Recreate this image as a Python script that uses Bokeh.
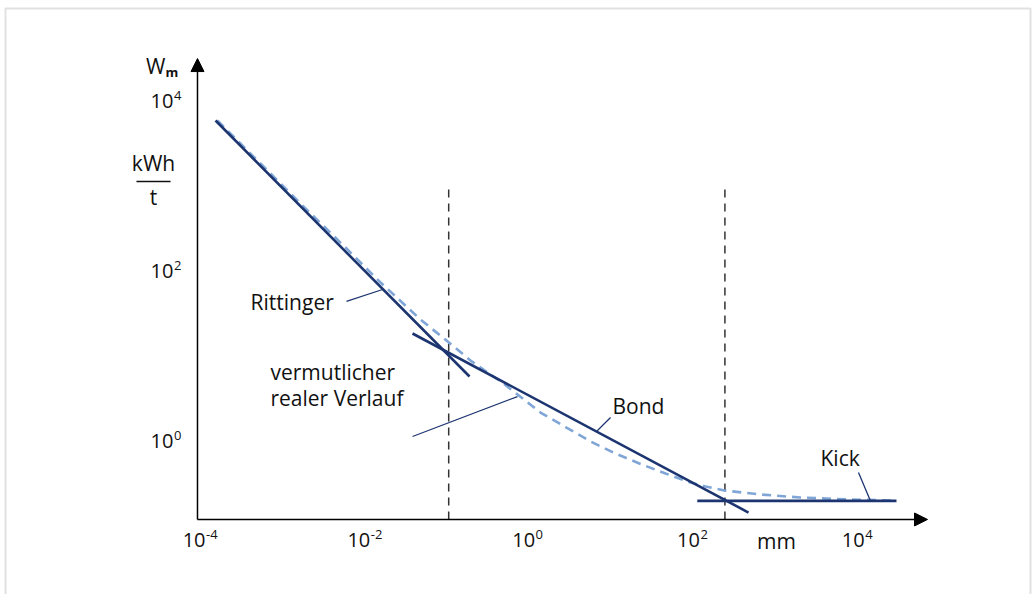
from bokeh.plotting import figure
from bokeh.models import Arrow, NormalHead, Range1d, BoxAnnotation
from bokeh.core.properties import value
from bokeh.embed import file_html
from bokeh.resources import INLINE

# ---------------- data ----------------
x_tick_values = [1e-4, 1e-2, 1e0, 1e2, 1e4]
x_tick_exponents = ["-4", "-2", "0", "2", "4"]
y_tick_values = [1e4, 1e2, 1e0]
y_tick_exponents = ["4", "2", "0"]

rittinger_x = [1.48e-4, 0.179]
rittinger_y = [5970.0, 5.82]
bond_x = [0.0364, 435.0]
bond_y = [18.65, 0.146]
kick_x = [104.0, 27200.0]
kick_y = [0.2, 0.2]

real_x = [1.56e-4, 5.2e-4, 1.59e-3, 4.86e-3, 0.0149, 0.0455, 0.094, 0.184, 0.462, 0.684,
          1.30, 2.616, 5.26, 10.57, 21.3, 42.8, 85.9, 130.8, 222.0, 608.0, 1860.0, 7520.0, 26400.0]
real_y = [5970.0, 1866.0, 631.0, 219.0, 74.2, 27.2, 15.4, 8.97, 4.81, 3.57,
          2.19, 1.481, 1.0, 0.7227, 0.5435, 0.4203, 0.3293, 0.2955, 0.265, 0.238, 0.219, 0.208, 0.202]

boundary_x = [0.1, 225.0]
boundary_top = 950.0

# axis geometry (data units)
axis_x0 = 8.94e-5
axis_y0 = 0.121
x_arrow_end = 6.47e4
y_arrow_end = 3.2e4

NAVY = "#1c3570"
LIGHT = "#7fa6d7"
INK = "#111111"
FONT = value("Open Sans")

p = figure(width=1033, height=594,
           x_axis_type="log", y_axis_type="log",
           x_range=Range1d(10 ** -6.4393, 10 ** 6.0971),
           y_range=Range1d(10 ** -1.8, 10 ** 5.1882),
           x_axis_location=None, y_axis_location=None,
           toolbar_location=None, output_backend="svg",
           min_border_left=0, min_border_right=0, min_border_top=0, min_border_bottom=0)
p.outline_line_color = None
p.background_fill_color = "white"
p.border_fill_color = "white"
p.grid.visible = False

# picture frame (open at the bottom, as in the source)
p.add_layout(BoxAnnotation(left=10 ** -6.3786, right=10 ** 6.0607, top=10 ** 5.0941, bottom=10 ** -2.106,
                           fill_alpha=0, line_color="#9c9c9c", line_width=2))

# boundaries (dashed verticals)
p.segment(x0=boundary_x, y0=[axis_y0] * len(boundary_x), x1=boundary_x,
          y1=[boundary_top] * len(boundary_x),
          line_color="#333333", line_width=1.5, line_dash="8 6")

# presumed real curve
p.line(real_x, real_y, line_color=LIGHT, line_width=2.6, line_dash="9 6")

# laws
p.line(rittinger_x, rittinger_y, line_color=NAVY, line_width=2.6)
p.line(bond_x, bond_y, line_color=NAVY, line_width=2.6)
p.line(kick_x, kick_y, line_color=NAVY, line_width=2.6)

# leader lines
lead_x0 = [5.75e-3, 0.0364, 9.2, 9400.0]
lead_y0 = [44.4, 1.145, 1.916, 0.4315]
lead_x1 = [0.01574, 0.684, 6.22, 13150.0]
lead_y1 = [61.4, 3.38, 1.311, 0.2]
p.segment(x0=lead_x0, y0=lead_y0, x1=lead_x1, y1=lead_y1, line_color=NAVY, line_width=1.3)

# labels
label_text = ["Rittinger", "vermutlicher", "realer Verlauf", "Bond", "Kick"]
label_x = [3.94e-4, 6.87e-4, 6.87e-4, 9.73, 3250.0]
label_y = [43.2, 6.49, 3.21, 2.65, 0.631]
p.text(x=label_x, y=label_y, text=label_text, text_font=FONT, text_font_size="21px",
       text_align="left", text_baseline="middle", text_color=INK)

# axes with arrows
for (xs, ys, xe, ye) in [(axis_x0, axis_y0, x_arrow_end, axis_y0),
                         (axis_x0, axis_y0, axis_x0, y_arrow_end)]:
    p.add_layout(Arrow(x_start=xs, y_start=ys, x_end=xe, y_end=ye,
                       line_color="black", line_width=1.5,
                       end=NormalHead(size=13, fill_color="black", line_color="black", line_width=1)))

# x tick labels
p.text(x=x_tick_values, y=[axis_y0] * len(x_tick_values), text=["10"] * len(x_tick_values),
       text_font=FONT, text_font_size="20px", text_align="right", text_baseline="middle",
       x_offset=4, y_offset=21, text_color=INK)
p.text(x=x_tick_values, y=[axis_y0] * len(x_tick_values), text=x_tick_exponents,
       text_font=FONT, text_font_size="13px", text_align="left", text_baseline="middle",
       x_offset=4.5, y_offset=15, text_color=INK)
p.text(x=[950.0], y=[axis_y0], text=["mm"], text_font=FONT, text_font_size="21px",
       text_align="center", text_baseline="middle", y_offset=22, text_color=INK)

# y tick labels
p.text(x=[axis_x0] * len(y_tick_values), y=y_tick_values, text=["10"] * len(y_tick_values),
       text_font=FONT, text_font_size="20px", text_align="right", text_baseline="middle",
       x_offset=-24, text_color=INK)
p.text(x=[axis_x0] * len(y_tick_values), y=y_tick_values, text=y_tick_exponents,
       text_font=FONT, text_font_size="13px", text_align="left", text_baseline="middle",
       x_offset=-23.5, y_offset=-6, text_color=INK)

# y-axis title W_m and unit kWh / t
p.text(x=[axis_x0], y=[y_arrow_end], text=["W"], text_font=FONT, text_font_size="21px",
       text_align="right", text_baseline="middle", x_offset=-32, y_offset=7, text_color=INK)
p.text(x=[axis_x0], y=[y_arrow_end], text=["m"], text_font=FONT, text_font_size="13px",
       text_font_style="bold", text_align="left", text_baseline="middle",
       x_offset=-32, y_offset=13, text_color=INK)
p.text(x=[2.616e-5], y=[1865.0], text=["kWh"], text_font=FONT, text_font_size="21px",
       text_align="center", text_baseline="middle", text_color=INK)
p.segment(x0=[1.625e-5], y0=[1145.0], x1=[4.21e-5], y1=[1145.0], line_color=INK, line_width=1.3)
p.text(x=[2.616e-5], y=[762.0], text=["t"], text_font=FONT, text_font_size="21px",
       text_align="center", text_baseline="middle", text_color=INK)

open("out.html", "w").write(file_html(p, INLINE))
